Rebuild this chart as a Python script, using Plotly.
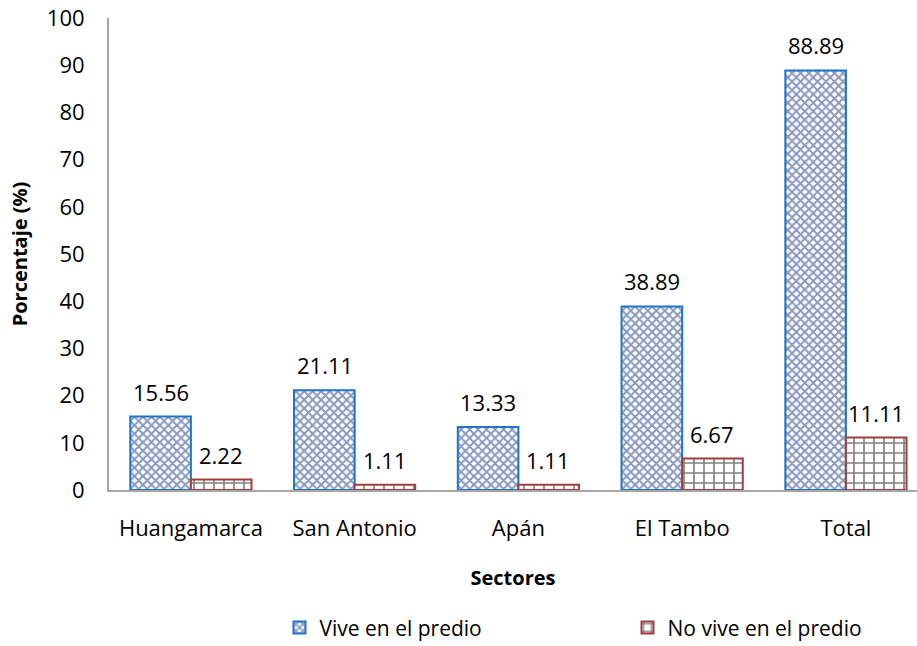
import plotly.graph_objects as go

categories = ["Huangamarca", "San Antonio", "Apán", "El Tambo", "Total"]
vive = [15.56, 21.11, 13.33, 38.89, 88.89]
no_vive = [2.22, 1.11, 1.11, 6.67, 11.11]
series_names = ["Vive en el predio", "No vive en el predio"]
y_ticks = list(range(0, 101, 10))

FONT = "Open Sans"
FS = 22

fig = go.Figure()
fig.add_trace(go.Bar(
    x=categories, y=vive, name=series_names[0],
    marker=dict(color="white", line=dict(color="#1f74c6", width=2),
                pattern=dict(shape="x", fgcolor="#12307a", bgcolor="white", size=6, solidity=0.55)),
))
fig.add_trace(go.Bar(
    x=categories, y=no_vive, name=series_names[1],
    marker=dict(color="white", line=dict(color="#a03f3d", width=2),
                pattern=dict(shape="+", fgcolor="black", bgcolor="white", size=10, solidity=0.3)),
))

ann = []
for i, c in enumerate(categories):
    ann.append(dict(x=c, y=vive[i], xref="x", yref="y", text=f"{vive[i]:.2f}", showarrow=False,
                    xshift=-30, yshift=25, font=dict(size=FS, color="black", family=FONT)))
    ann.append(dict(x=c, y=no_vive[i], xref="x", yref="y", text=f"{no_vive[i]:.2f}", showarrow=False,
                    xshift=30, yshift=25, font=dict(size=FS, color="black", family=FONT)))

fig.update_layout(
    width=917, height=646,
    margin=dict(l=109, r=0, t=18, b=156, autoexpand=False),
    paper_bgcolor="white", plot_bgcolor="white",
    barmode="group", bargap=0.26, bargroupgap=0,
    font=dict(family=FONT, size=FS, color="black"),
    annotations=ann,
    legend=dict(orientation="h", x=0.211, xanchor="left", yref="container", y=0.028, yanchor="middle",
                font=dict(size=21), itemwidth=30, traceorder="normal",
                entrywidthmode="pixels", entrywidth=303),
    xaxis=dict(title=dict(text="<b>Sectores</b>", font=dict(size=20), standoff=30),
               range=[-0.5, 4.434],
               showline=True, linecolor="#a6a6a6", linewidth=2, ticks="", showgrid=False,
               tickfont=dict(size=FS), ticklabelstandoff=18, automargin=False),
    yaxis=dict(title=dict(text="<b>Porcentaje (%)</b>", font=dict(size=20), standoff=14),
               range=[0, 100], tickvals=y_ticks, showline=True, linecolor="#a6a6a6", linewidth=2,
               ticks="", showgrid=False, tickfont=dict(size=FS), ticklabelstandoff=18, automargin=False),
)

fig.write_html("out.html", config={"displayModeBar": False},
               post_script="document.body.style.margin='0';document.body.style.padding='0';")
